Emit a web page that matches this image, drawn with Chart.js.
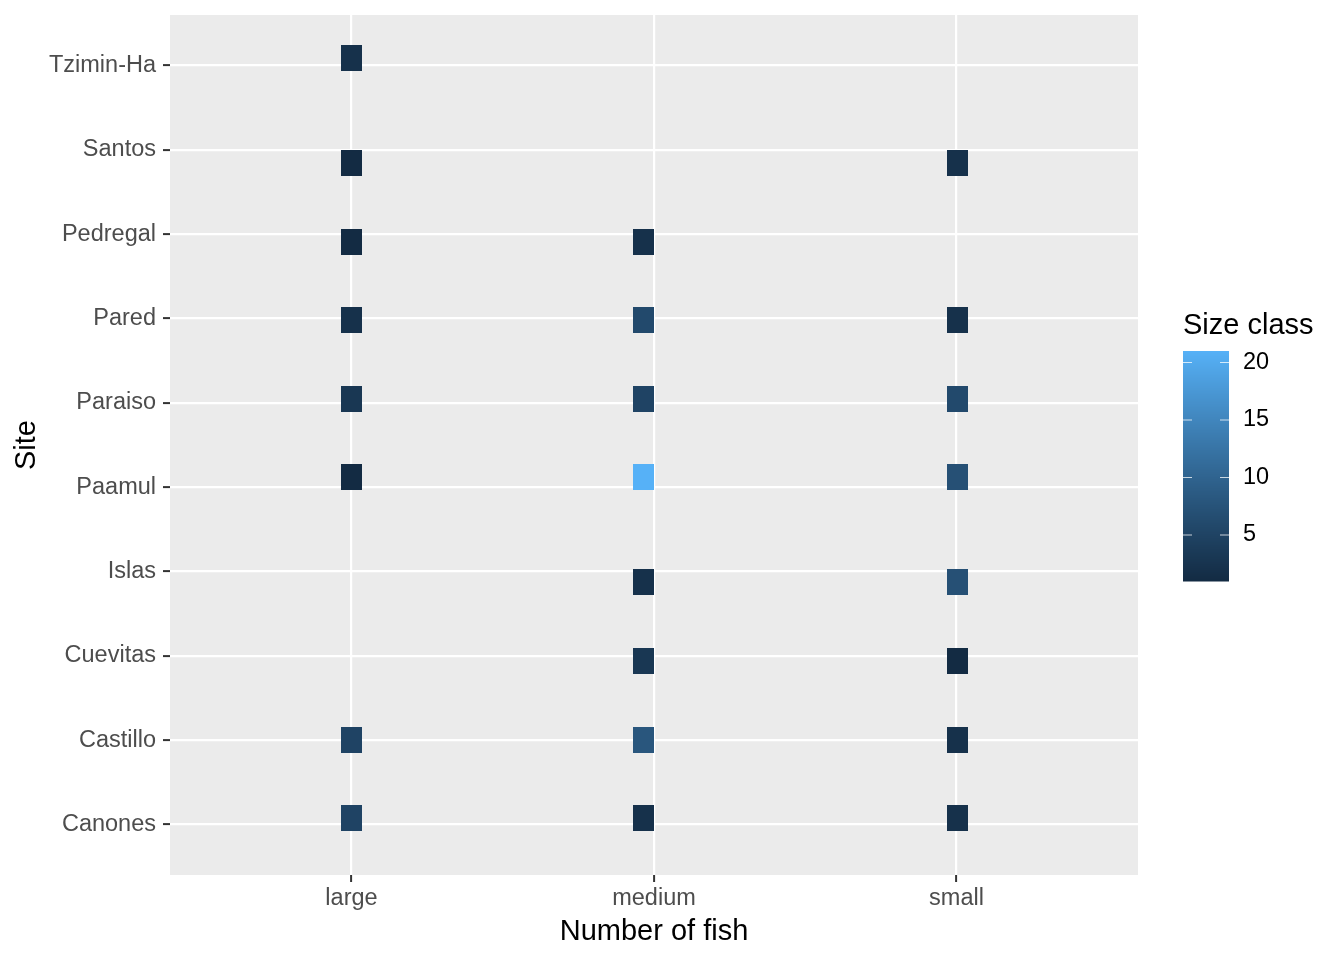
<!DOCTYPE html>
<html lang="en">
<head>
    <meta charset="UTF-8">
    <title>Size class by site</title>
    <script src="https://cdn.jsdelivr.net/npm/chart.js"></script>
    <style>
        body {
            margin: 0;
            background: #ffffff;
        }
        #wrap {
            width: 1344px;
            height: 960px;
        }
    </style>
</head>
<body>
    <div id="wrap"><canvas id="fishChart" width="1344" height="960"></canvas></div>

    <script>
        // categories (bottom to top on the y axis)
        const sites = ['Canones', 'Castillo', 'Cuevitas', 'Islas', 'Paamul', 'Paraiso', 'Pared', 'Pedregal', 'Santos', 'Tzimin-Ha'];
        const sizes = ['large', 'medium', 'small'];

        // size class value per site, one array per column (null = no mark)
        const largeVals  = [5, 5, null, null, 1, 3, 2, 1, 1, 2];
        const mediumVals = [2, 8, 3, 2, 21, 5, 6, 2, null, null];
        const smallVals  = [2, 2, 1, 7, 7, 6, 2, null, 2, null];

        // jitter, in category units
        const siteJitter = [0.076, 0.007, -0.062, -0.125, 0.121, 0.046, -0.017, -0.087, -0.155, 0.090];
        const sizeJitter = [0.0, -0.035, 0.003];

        const legendTicks = [5, 10, 15, 20];
        const valueMin = 1;
        const valueMax = 21;

        // ggplot default gradient, interpolated in Lab
        const lowHex = '#132B43';
        const highHex = '#56B1F7';

        function hexToRgb(h) {
            return [1, 3, 5].map(i => parseInt(h.substr(i, 2), 16));
        }
        function toLin(c) {
            c /= 255;
            return c <= 0.04045 ? c / 12.92 : Math.pow((c + 0.055) / 1.055, 2.4);
        }
        function fromLin(c) {
            const v = c <= 0.0031308 ? 12.92 * c : 1.055 * Math.pow(c, 1 / 2.4) - 0.055;
            return Math.max(0, Math.min(255, Math.round(v * 255)));
        }
        const Xn = 0.95047, Yn = 1.0, Zn = 1.08883;
        function f(t) { return t > 0.008856 ? Math.cbrt(t) : 7.787 * t + 16 / 116; }
        function finv(t) { return t > 0.206893 ? t * t * t : (t - 16 / 116) / 7.787; }
        function rgbToLab(rgb) {
            const [r, g, b] = rgb.map(toLin);
            const X = 0.4124 * r + 0.3576 * g + 0.1805 * b;
            const Y = 0.2126 * r + 0.7152 * g + 0.0722 * b;
            const Z = 0.0193 * r + 0.1192 * g + 0.9505 * b;
            const fx = f(X / Xn), fy = f(Y / Yn), fz = f(Z / Zn);
            return [116 * fy - 16, 500 * (fx - fy), 200 * (fy - fz)];
        }
        function labToRgb(lab) {
            const fy = (lab[0] + 16) / 116;
            const fx = fy + lab[1] / 500;
            const fz = fy - lab[2] / 200;
            const X = Xn * finv(fx), Y = Yn * finv(fy), Z = Zn * finv(fz);
            const r = 3.2406 * X - 1.5372 * Y - 0.4986 * Z;
            const g = -0.9689 * X + 1.8758 * Y + 0.0415 * Z;
            const b = 0.0557 * X - 0.2040 * Y + 1.0570 * Z;
            return [fromLin(r), fromLin(g), fromLin(b)];
        }
        const lowLab = rgbToLab(hexToRgb(lowHex));
        const highLab = rgbToLab(hexToRgb(highHex));
        function colourFor(v) {
            const t = Math.max(0, Math.min(1, (v - valueMin) / (valueMax - valueMin)));
            const lab = lowLab.map((c, i) => c + (highLab[i] - c) * t);
            const rgb = labToRgb(lab);
            return `rgb(${rgb[0]}, ${rgb[1]}, ${rgb[2]})`;
        }

        // tile-shaped point style
        const markCache = {};
        function markFor(v) {
            if (!markCache[v]) {
                const c = document.createElement('canvas');
                c.width = 21;
                c.height = 26;
                const g = c.getContext('2d');
                g.fillStyle = colourFor(v);
                g.fillRect(0, 0, 21, 26);
                markCache[v] = c;
            }
            return markCache[v];
        }

        const columns = [largeVals, mediumVals, smallVals];
        const points = [];
        columns.forEach((vals, ci) => {
            vals.forEach((v, si) => {
                if (v === null) return;
                points.push({ x: ci + 1 + sizeJitter[ci], y: si + 1 + siteJitter[si], v: v });
            });
        });

        const textGrey = '#4D4D4D';
        const baseFont = '"Liberation Sans", Arial, Helvetica, sans-serif';

        const ggDecor = {
            id: 'ggDecor',
            beforeDraw(chart) {
                const { ctx, chartArea: a } = chart;
                ctx.save();
                ctx.fillStyle = '#EBEBEB';
                ctx.fillRect(a.left, a.top, a.right - a.left, a.bottom - a.top);
                ctx.restore();
            },
            afterDraw(chart) {
                const { ctx, chartArea: a } = chart;
                ctx.save();
                ctx.fillStyle = '#000000';
                ctx.font = `29px ${baseFont}`;
                // axis titles
                ctx.textAlign = 'center';
                ctx.textBaseline = 'alphabetic';
                ctx.fillText('Number of fish', (a.left + a.right) / 2, 940);
                ctx.save();
                ctx.translate(35, (a.top + a.bottom) / 2);
                ctx.rotate(-Math.PI / 2);
                ctx.fillText('Site', 0, 0);
                ctx.restore();

                // colour bar legend
                const barL = 1183, barR = 1229, barT = 351, barB = 581;
                ctx.textAlign = 'left';
                ctx.fillText('Size class', barL, 334);
                const steps = barB - barT;
                for (let i = 0; i < steps; i++) {
                    const v = valueMax - (valueMax - valueMin) * (i + 0.5) / steps;
                    ctx.fillStyle = colourFor(v);
                    ctx.fillRect(barL, barT + i, barR - barL, 1.5);
                }
                const yFor = v => barB - (v - valueMin) / (valueMax - valueMin) * (barB - barT);
                ctx.strokeStyle = 'rgba(255,255,255,0.75)';
                ctx.lineWidth = 1.2;
                ctx.font = `23.5px ${baseFont}`;
                ctx.fillStyle = '#000000';
                ctx.textBaseline = 'middle';
                legendTicks.forEach(t => {
                    const y = yFor(t);
                    ctx.beginPath();
                    ctx.moveTo(barL, y);
                    ctx.lineTo(barL + 9, y);
                    ctx.moveTo(barR - 9, y);
                    ctx.lineTo(barR, y);
                    ctx.stroke();
                    ctx.fillText(String(t), 1243, y);
                });
                ctx.restore();
            }
        };

        const fishCtx = document.getElementById('fishChart').getContext('2d');
        const fishChart = new Chart(fishCtx, {
            type: 'scatter',
            data: {
                datasets: [{
                    label: 'Size class',
                    data: points,
                    pointStyle: ctx => markFor(ctx.raw.v),
                    pointRadius: 12,
                    pointHoverRadius: 12
                }]
            },
            options: {
                responsive: false,
                animation: false,
                devicePixelRatio: 1,
                layout: {
                    padding: { left: 0, right: 206, top: 15, bottom: 0 }
                },
                plugins: {
                    legend: { display: false },
                    tooltip: { enabled: false }
                },
                scales: {
                    x: {
                        type: 'linear',
                        min: 0.4,
                        max: 3.6,
                        afterBuildTicks: s => { s.ticks = sizes.map((_, i) => ({ value: i + 1 })); },
                        afterFit: s => { s.height = 85; s.paddingLeft = 0; s.paddingRight = 0; },
                        border: { display: false },
                        grid: {
                            color: '#ffffff',
                            lineWidth: 2.2,
                            drawTicks: true,
                            tickLength: 7,
                            tickColor: '#333333',
                            tickWidth: 2
                        },
                        ticks: {
                            callback: v => sizes[Math.round(v) - 1],
                            color: textGrey,
                            font: { family: baseFont, size: 23.5 },
                            padding: 2,
                            maxRotation: 0
                        }
                    },
                    y: {
                        type: 'linear',
                        min: 0.4,
                        max: 10.6,
                        afterBuildTicks: s => { s.ticks = sites.map((_, i) => ({ value: i + 1 })); },
                        afterFit: s => { s.width = 170; s.paddingTop = 0; s.paddingBottom = 0; },
                        border: { display: false },
                        grid: {
                            color: '#ffffff',
                            lineWidth: 2.2,
                            drawTicks: true,
                            tickLength: 7,
                            tickColor: '#333333',
                            tickWidth: 2
                        },
                        ticks: {
                            callback: v => sites[Math.round(v) - 1],
                            color: textGrey,
                            font: { family: baseFont, size: 23.5 },
                            padding: 7
                        }
                    }
                }
            },
            plugins: [ggDecor]
        });
    </script>
</body>
</html>
